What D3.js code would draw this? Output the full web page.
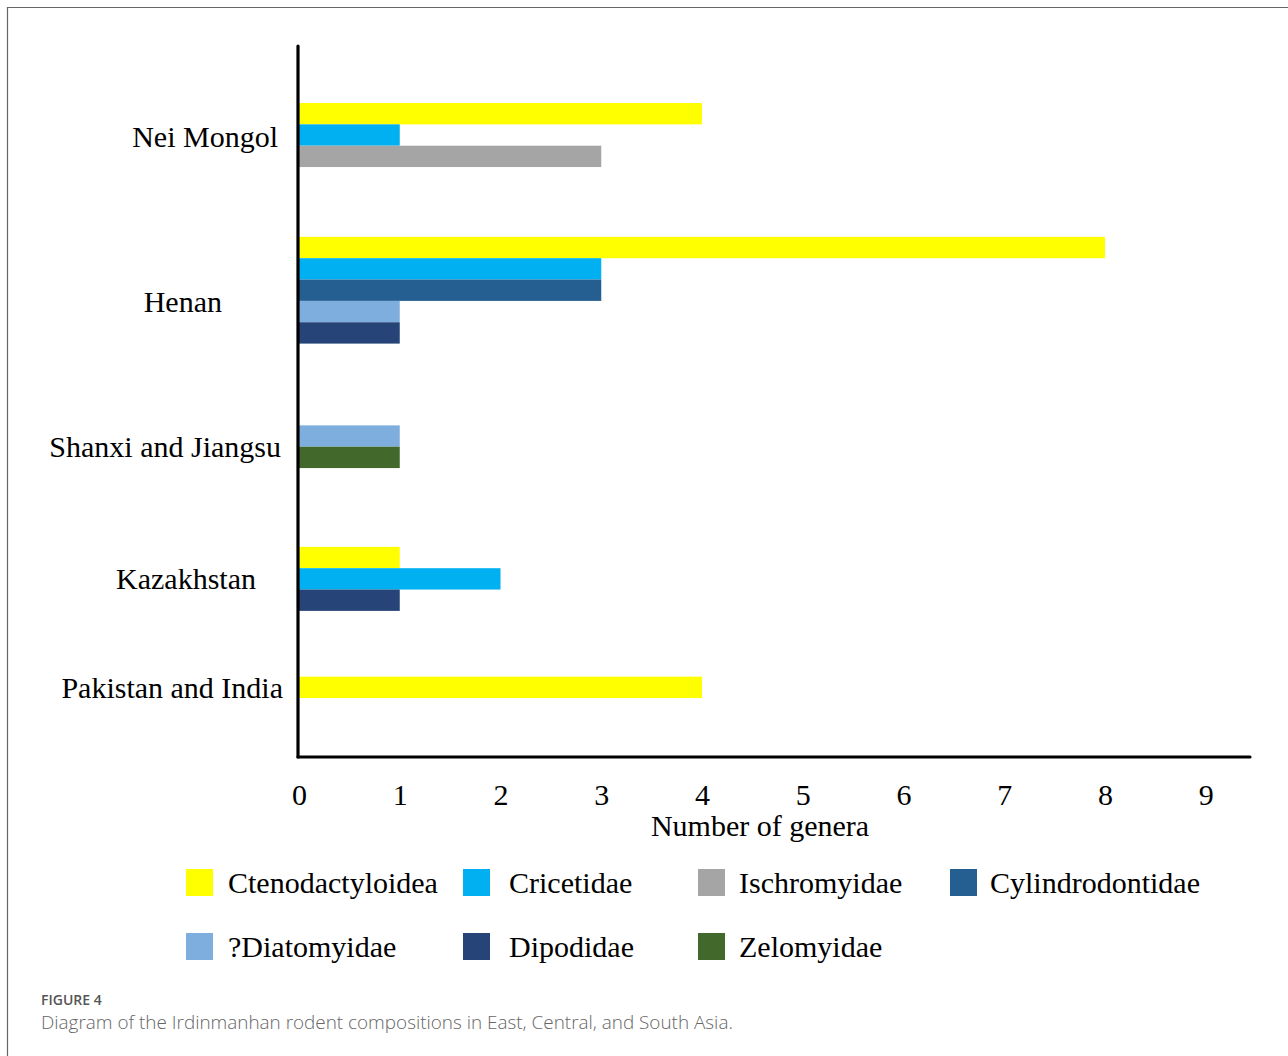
<!DOCTYPE html>
<html>
<head>
<meta charset="utf-8">
<script src="https://cdn.jsdelivr.net/npm/d3@7"></script>
<style>
  html, body { margin: 0; padding: 0; background: #fff; }
  svg { display: block; }
</style>
</head>
<body>
<script>
// Regions (top to bottom) and rodent families
const regions = ["Nei Mongol", "Henan", "Shanxi and Jiangsu", "Kazakhstan", "Pakistan and India"];
const families = ["Ctenodactyloidea", "Cricetidae", "Ischromyidae", "Cylindrodontidae", "?Diatomyidae", "Dipodidae", "Zelomyidae"];
const familyColors = ["#FFFF00", "#00B0F0", "#A5A5A5", "#255E91", "#7DAEDD", "#264478", "#43682B"];

// Number of genera per family, one array per family, indexed like `regions`
const ctenodactyloidea = [4, 8, 0, 1, 4];
const cricetidae       = [1, 3, 0, 2, 0];
const ischromyidae     = [3, 0, 0, 0, 0];
const cylindrodontidae = [0, 3, 0, 0, 0];
const diatomyidae      = [0, 1, 1, 0, 0];
const dipodidae        = [0, 1, 0, 1, 0];
const zelomyidae       = [0, 0, 1, 0, 0];
const seriesValues = [ctenodactyloidea, cricetidae, ischromyidae, cylindrodontidae, diatomyidae, dipodidae, zelomyidae];

const xTicks = [0, 1, 2, 3, 4, 5, 6, 7, 8, 9];
const xTitle = "Number of genera";
const figureLabel = "FIGURE 4";
const captionText = "Diagram of the Irdinmanhan rodent compositions in East, Central, and South Asia.";

// Layout
const W = 1288, H = 1056;
const axisX0 = 299, axisXEnd = 1250, axisYTop = 46, axisYBottom = 757;
const barsTop = 103, barsBottom = 698;
const gapBefore = [0, 3.27, 3.83, 3.69, 3.08];   // blank space above each region group, in bar heights
const labelRight = [278, 222, 281, 256, 283];
const labelDy = [1, 11, 0, 0, 0];
const serif = "'Liberation Serif', 'Times New Roman', serif";
const sans = "'Open Sans', 'Noto Sans', sans-serif";

const svg = d3.select("body").append("svg").attr("width", W).attr("height", H);

// Figure frame (top and left edges)
svg.append("path")
  .attr("d", `M7.5,${H} V7.5 H${W}`)
  .attr("fill", "none").attr("stroke", "#666").attr("stroke-width", 1.2);

// Build rows: each region shows only its non-zero families, stacked without gaps
const rows = [];
const groups = [];
let unit = 0;
regions.forEach((region, ri) => {
  unit += gapBefore[ri];
  const start = unit;
  families.forEach((fam, fi) => {
    const v = seriesValues[fi][ri];
    if (v > 0) {
      rows.push({ region, ri, fam, fi, value: v, pos: unit });
      unit += 1;
    }
  });
  groups.push({ region, ri, start, end: unit });
});

const x = d3.scaleLinear().domain([0, 8]).range([axisX0, 1105]);
const y = d3.scaleLinear().domain([0, unit]).range([barsTop, barsBottom]);
const rowH = y(1) - y(0);

// Bars
svg.append("g").selectAll("rect")
  .data(rows)
  .join("rect")
  .attr("x", x(0))
  .attr("y", d => y(d.pos))
  .attr("width", d => x(d.value) - x(0))
  .attr("height", rowH)
  .attr("fill", d => familyColors[d.fi]);

// Axes
const xAxis = d3.axisBottom(x).tickValues(xTicks).tickSize(0).tickPadding(0).tickFormat(d3.format("d"));
const gx = svg.append("g").attr("transform", `translate(0,${axisYBottom})`).call(xAxis);
gx.select(".domain").remove();
gx.selectAll("text")
  .attr("y", 48).attr("dy", null)
  .attr("font-family", serif).attr("font-size", 30).attr("fill", "#000");

svg.append("line")
  .attr("x1", axisX0 - 1).attr("x2", axisXEnd)
  .attr("y1", axisYBottom).attr("y2", axisYBottom)
  .attr("stroke", "#000").attr("stroke-width", 3.2).attr("stroke-linecap", "round");
svg.append("line")
  .attr("x1", axisX0 - 1).attr("x2", axisX0 - 1)
  .attr("y1", axisYTop).attr("y2", axisYBottom)
  .attr("stroke", "#000").attr("stroke-width", 3.2).attr("stroke-linecap", "round");

// Region labels
svg.append("g").selectAll("text")
  .data(groups)
  .join("text")
  .attr("x", d => labelRight[d.ri])
  .attr("y", d => (y(d.start) + y(d.end)) / 2 + labelDy[d.ri])
  .attr("dy", "0.35em")
  .attr("text-anchor", "end")
  .attr("font-family", serif).attr("font-size", 30).attr("fill", "#000")
  .text(d => d.region);

// Axis title
svg.append("text")
  .attr("x", 760).attr("y", 836)
  .attr("text-anchor", "middle")
  .attr("font-family", serif).attr("font-size", 30).attr("fill", "#000")
  .text(xTitle);

// Legend: two rows of four columns
const legendCols = [186, 463, 698, 950];
const legendTextGap = [42, 46, 41, 40];
const legendRows = [869, 933];
const legend = svg.append("g").selectAll("g")
  .data(families.map((f, i) => ({ f, i })))
  .join("g")
  .attr("transform", d => `translate(${legendCols[d.i % 4]},${legendRows[Math.floor(d.i / 4)]})`);
legend.append("rect")
  .attr("width", 27).attr("height", 27)
  .attr("fill", d => familyColors[d.i]);
legend.append("text")
  .attr("x", d => legendTextGap[d.i % 4]).attr("y", 24)
  .attr("font-family", serif).attr("font-size", 30).attr("fill", "#000")
  .text(d => d.f);

// Caption
svg.append("text")
  .attr("x", 41).attr("y", 1005)
  .attr("font-family", sans)
  .attr("font-size", 14).attr("font-weight", 600).attr("fill", "#555")
  .text(figureLabel);
svg.append("text")
  .attr("x", 41).attr("y", 1029)
  .attr("font-family", sans)
  .attr("font-size", 18.9).attr("font-weight", 300).attr("fill", "#666")
  .text(captionText);
</script>
</body>
</html>
